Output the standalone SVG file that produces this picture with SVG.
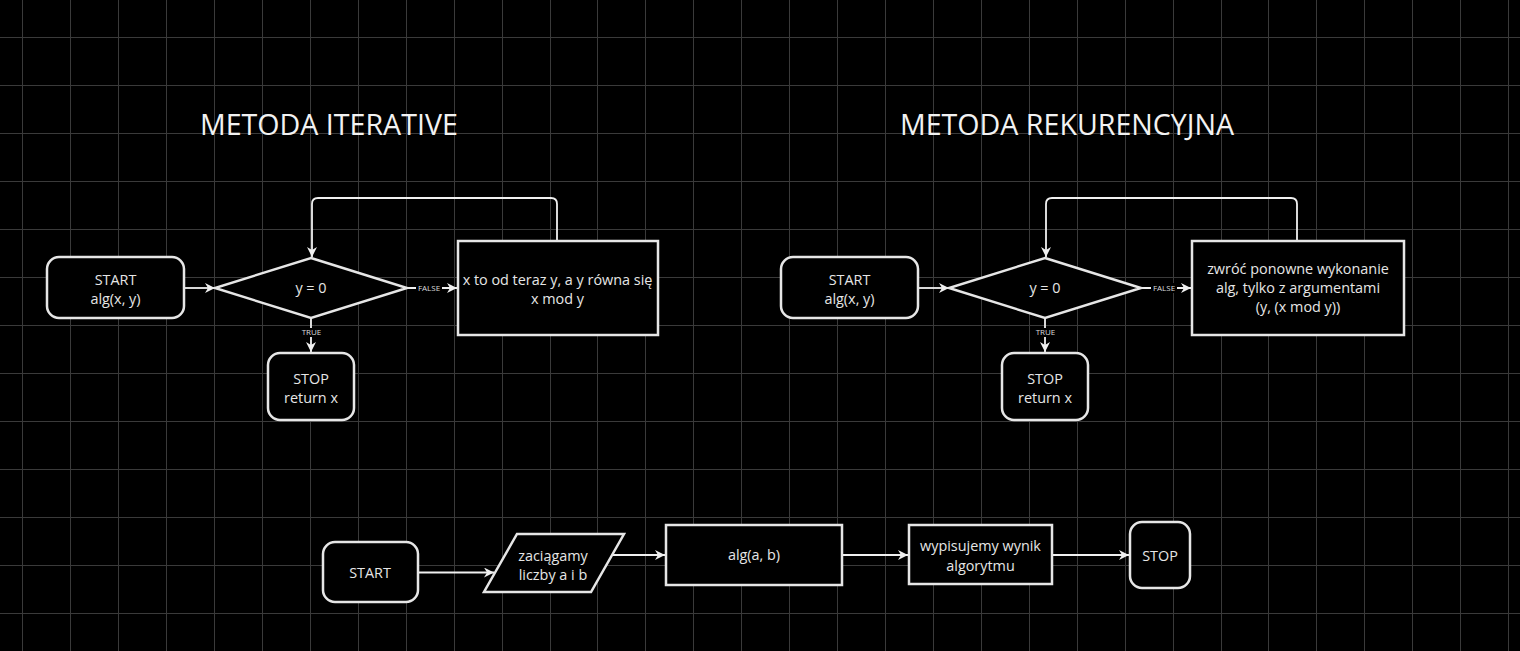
<svg xmlns="http://www.w3.org/2000/svg" width="1520" height="651" viewBox="0 0 1520 651">
<defs>
<style>
.grid line{stroke:#3a3a3a;stroke-width:1}
.node{fill:#000;stroke:#e6e6e6;stroke-width:2.5}
.t{font-family:"Open Sans","Liberation Sans",sans-serif;font-size:14.4px;fill:#e6e6e6;text-anchor:middle}
.title{font-family:"Open Sans","Liberation Sans",sans-serif;font-size:28.6px;fill:#f2f2f2;text-anchor:start}
.lbl{font-family:"Open Sans","Liberation Sans",sans-serif;font-size:8px;fill:#dcdcdc;text-anchor:middle}
.edge{fill:none;stroke:#f0f0f0;stroke-width:1.8;marker-end:url(#arr)}
</style>
<marker id="arr" markerUnits="userSpaceOnUse" markerWidth="12" markerHeight="12" refX="10" refY="5" orient="auto">
<path d="M0,0 L10,5 L0,10 L3,5 z" fill="#f0f0f0"/>
</marker>
</defs>
<rect width="1520" height="651" fill="#000"/>
<g class="grid">
<line x1="22.5" y1="0" x2="22.5" y2="651"/><line x1="70.5" y1="0" x2="70.5" y2="651"/><line x1="118.5" y1="0" x2="118.5" y2="651"/><line x1="166.5" y1="0" x2="166.5" y2="651"/><line x1="214.5" y1="0" x2="214.5" y2="651"/><line x1="262.5" y1="0" x2="262.5" y2="651"/><line x1="310.5" y1="0" x2="310.5" y2="651"/><line x1="358.5" y1="0" x2="358.5" y2="651"/><line x1="406.5" y1="0" x2="406.5" y2="651"/><line x1="454.5" y1="0" x2="454.5" y2="651"/><line x1="502.5" y1="0" x2="502.5" y2="651"/><line x1="550.5" y1="0" x2="550.5" y2="651"/><line x1="597.5" y1="0" x2="597.5" y2="651"/><line x1="645.5" y1="0" x2="645.5" y2="651"/><line x1="693.5" y1="0" x2="693.5" y2="651"/><line x1="741.5" y1="0" x2="741.5" y2="651"/><line x1="789.5" y1="0" x2="789.5" y2="651"/><line x1="837.5" y1="0" x2="837.5" y2="651"/><line x1="885.5" y1="0" x2="885.5" y2="651"/><line x1="933.5" y1="0" x2="933.5" y2="651"/><line x1="981.5" y1="0" x2="981.5" y2="651"/><line x1="1029.5" y1="0" x2="1029.5" y2="651"/><line x1="1077.5" y1="0" x2="1077.5" y2="651"/><line x1="1125.5" y1="0" x2="1125.5" y2="651"/><line x1="1173.5" y1="0" x2="1173.5" y2="651"/><line x1="1221.5" y1="0" x2="1221.5" y2="651"/><line x1="1268.5" y1="0" x2="1268.5" y2="651"/><line x1="1316.5" y1="0" x2="1316.5" y2="651"/><line x1="1364.5" y1="0" x2="1364.5" y2="651"/><line x1="1412.5" y1="0" x2="1412.5" y2="651"/><line x1="1460.5" y1="0" x2="1460.5" y2="651"/><line x1="1508.5" y1="0" x2="1508.5" y2="651"/>
<line x1="0" y1="37.5" x2="1520" y2="37.5"/><line x1="0" y1="85.5" x2="1520" y2="85.5"/><line x1="0" y1="133.5" x2="1520" y2="133.5"/><line x1="0" y1="181.5" x2="1520" y2="181.5"/><line x1="0" y1="229.5" x2="1520" y2="229.5"/><line x1="0" y1="277.5" x2="1520" y2="277.5"/><line x1="0" y1="325.5" x2="1520" y2="325.5"/><line x1="0" y1="373.5" x2="1520" y2="373.5"/><line x1="0" y1="421.5" x2="1520" y2="421.5"/><line x1="0" y1="469.5" x2="1520" y2="469.5"/><line x1="0" y1="517.5" x2="1520" y2="517.5"/><line x1="0" y1="565.5" x2="1520" y2="565.5"/><line x1="0" y1="613.5" x2="1520" y2="613.5"/>
</g>
<text class="title" x="200" y="134.5">METODA ITERATIVE</text>
<text class="title" x="900" y="135">METODA REKURENCYJNA</text>
<g id="connectors">
<path class="edge" d="M184,288 H215"/>
<path class="edge" d="M311,318 V352"/>
<path class="edge" d="M407,288 H457"/>
<path class="edge" d="M557,241 V204 Q557,198 551,198 H318 Q312,198 312,204 V257"/>
<path class="edge" d="M918,288 H949"/>
<path class="edge" d="M1045,318 V352"/>
<path class="edge" d="M1141,288 H1191"/>
<path class="edge" d="M1297,241 V204 Q1297,198 1291,198 H1052 Q1046,198 1046,204 V257"/>
<path class="edge" d="M418,572.5 H494"/>
<path class="edge" d="M612,555 H665"/>
<path class="edge" d="M842,555 H908"/>
<path class="edge" d="M1053,555 H1129"/>
<rect x="301" y="328" width="21" height="9" fill="#000"/>
<text class="lbl" x="311.5" y="335">TRUE</text>
<rect x="1035" y="328" width="21" height="9" fill="#000"/>
<text class="lbl" x="1045.5" y="335">TRUE</text>
<rect x="416" y="283" width="26" height="10" fill="#000"/>
<text class="lbl" x="429" y="291">FALSE</text>
<rect x="1151" y="283" width="26" height="10" fill="#000"/>
<text class="lbl" x="1164" y="291">FALSE</text>
</g>
<g id="it-start"><rect class="node" x="47" y="257" width="137" height="61" rx="12"/><text class="t" x="115.5" y="285">START</text><text class="t" x="115.5" y="304">alg(x, y)</text></g>
<g id="it-cond"><polygon class="node" points="311,258 407,288 311,318 215,288"/><text class="t" x="311" y="293">y = 0</text></g>
<g id="it-stop"><rect class="node" x="268" y="353" width="86" height="67" rx="12"/><text class="t" x="311" y="384">STOP</text><text class="t" x="311" y="402.5">return x</text></g>
<g id="it-step"><rect class="node" x="458" y="241" width="200" height="94"/><text class="t" x="557.5" y="284.5">x to od teraz y, a y równa się</text><text class="t" x="557.5" y="303.5">x mod y</text></g>
<g id="rec-start"><rect class="node" x="781" y="257" width="137" height="61" rx="12"/><text class="t" x="849.5" y="285">START</text><text class="t" x="849.5" y="304">alg(x, y)</text></g>
<g id="rec-cond"><polygon class="node" points="1045,258 1141,288 1045,318 949,288"/><text class="t" x="1045" y="293">y = 0</text></g>
<g id="rec-stop"><rect class="node" x="1002" y="353" width="86" height="67" rx="12"/><text class="t" x="1045" y="384">STOP</text><text class="t" x="1045" y="402.5">return x</text></g>
<g id="rec-step"><rect class="node" x="1192" y="241" width="212" height="94"/><text class="t" x="1298" y="274">zwróć ponowne wykonanie</text><text class="t" x="1298" y="293">alg, tylko z argumentami</text><text class="t" x="1298" y="312">(y, (x mod y))</text></g>
<g id="main-start"><rect class="node" x="323" y="542" width="95" height="60" rx="12"/><text class="t" x="370" y="577.5">START</text></g>
<g id="main-input"><polygon class="node" points="517,534 624,534 591,592 484,592"/><text class="t" x="553" y="560.5">zaciągamy</text><text class="t" x="553" y="580">liczby a i b</text></g>
<g id="main-alg"><rect class="node" x="666" y="525" width="176" height="60"/><text class="t" x="754" y="560">alg(a, b)</text></g>
<g id="main-print"><rect class="node" x="909" y="525" width="143" height="59"/><text class="t" x="980.5" y="551">wypisujemy wynik</text><text class="t" x="980.5" y="571">algorytmu</text></g>
<g id="main-stop"><rect class="node" x="1130" y="522" width="60" height="66" rx="12"/><text class="t" x="1160" y="561">STOP</text></g>
</svg>
